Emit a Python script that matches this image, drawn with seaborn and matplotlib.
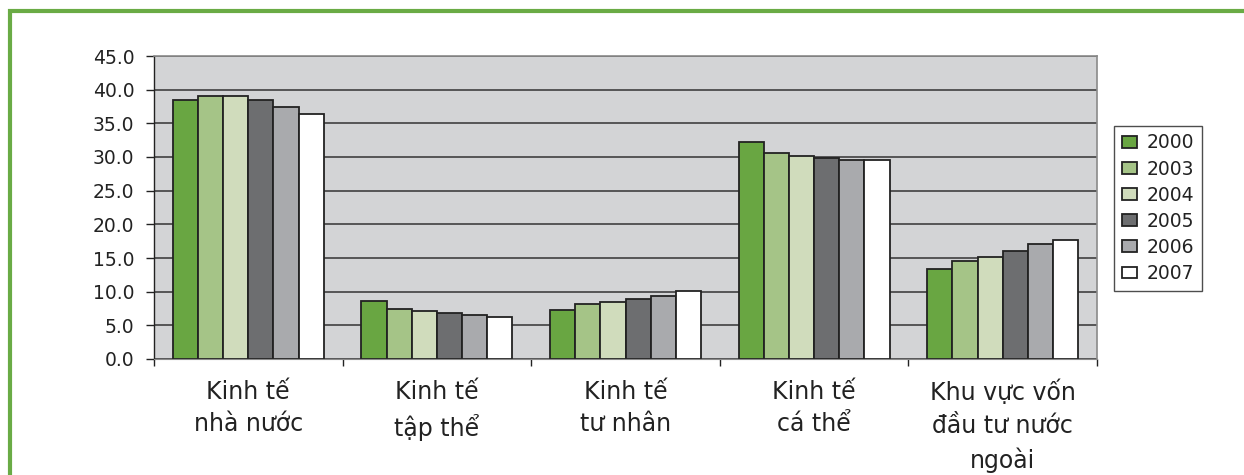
import numpy as np
import pandas as pd
import seaborn as sns
import matplotlib.pyplot as plt
from matplotlib.patches import Rectangle
from matplotlib.ticker import FormatStrFormatter, FixedLocator

# GDP share by economic sector (%)
sectors = ["Kinh tế\nnhà nước", "Kinh tế\ntập thể", "Kinh tế\ntư nhân",
           "Kinh tế\ncá thể", "Khu vực vốn\nđầu tư nước\nngoài"]
years = ["2000", "2003", "2004", "2005", "2006", "2007"]
nha_nuoc = [38.5, 39.1, 39.1, 38.4, 37.4, 36.4]
tap_the = [8.6, 7.5, 7.1, 6.8, 6.5, 6.2]
tu_nhan = [7.3, 8.2, 8.4, 8.9, 9.4, 10.1]
ca_the = [32.3, 30.6, 30.2, 29.8, 29.6, 29.5]
fdi = [13.4, 14.5, 15.2, 16.1, 17.1, 17.7]
y_ticks = [0, 5, 10, 15, 20, 25, 30, 35, 40, 45]

colors = ["#69a642", "#a5c487", "#d0dcbc", "#6d6e70", "#a9aaad", "#ffffff"]

rows = []
for sec, vals in zip(sectors, [nha_nuoc, tap_the, tu_nhan, ca_the, fdi]):
    for yr, v in zip(years, vals):
        rows.append({"sector": sec, "year": yr, "value": v})
df = pd.DataFrame(rows)

sns.set_style("white")
plt.rcParams["font.family"] = ["DejaVu Sans"]

fig = plt.figure(figsize=(12.44, 4.75), dpi=100)
ax = fig.add_axes([154 / 1244, 1 - 359 / 475, (1097 - 154) / 1244, (359 - 56) / 475])
ax.set_facecolor("#d3d4d6")

sns.barplot(data=df, x="sector", y="value", hue="year", order=sectors,
            hue_order=years, palette=colors, width=0.8, saturation=1,
            edgecolor="#222222", linewidth=1.3, ax=ax)

ax.set_ylim(0, 45)
ax.set_xlim(-0.5, len(sectors) - 0.5)
ax.yaxis.set_major_locator(FixedLocator(y_ticks))
ax.yaxis.set_major_formatter(FormatStrFormatter("%.1f"))
ax.yaxis.grid(True, color="#333333", linewidth=1.1)
ax.set_axisbelow(True)
ax.set_xlabel("")
ax.set_ylabel("")

for side in ["top", "right"]:
    ax.spines[side].set_color("#8a8a8a")
    ax.spines[side].set_linewidth(1.2)
ax.spines["left"].set_color("#222222")
ax.spines["bottom"].set_color("#8a8a8a")
ax.spines["left"].set_linewidth(1.0)

ax.tick_params(axis="y", length=6, width=1, color="#222222", pad=8,
               labelsize=13.5, labelcolor="#222222", left=True)
ax.tick_params(axis="x", which="major", length=0, pad=15,
               labelsize=17, labelcolor="#222222")
ax.set_xticks(np.arange(len(sectors) + 1) - 0.5, minor=True)
ax.tick_params(axis="x", which="minor", length=5, width=1, color="#222222",
               bottom=True)
for lbl in ax.get_xticklabels():
    lbl.set_linespacing(1.45)

handles, labels = ax.get_legend_handles_labels()
ax.get_legend().remove()
leg = fig.legend(handles, labels, loc="upper left",
                 bbox_to_anchor=(1114 / 1244, 1 - 126 / 475),
                 frameon=True, fancybox=False, shadow=False,
                 fontsize=13.5, handlelength=0.85, handleheight=0.6,
                 handletextpad=0.5, labelspacing=0.38, borderpad=0.4,
                 borderaxespad=0)
leg.get_frame().set_edgecolor("#222222")
leg.get_frame().set_linewidth(1.0)
for t in leg.get_texts():
    t.set_color("#222222")

# green frame around the chart
fig.patches.append(Rectangle((10 / 1244, -0.1), 1.2, 1 - 11 / 475 + 0.1,
                             transform=fig.transFigure, fill=False,
                             edgecolor="#6aab45", linewidth=3))

fig.savefig("out.png", dpi=100)
